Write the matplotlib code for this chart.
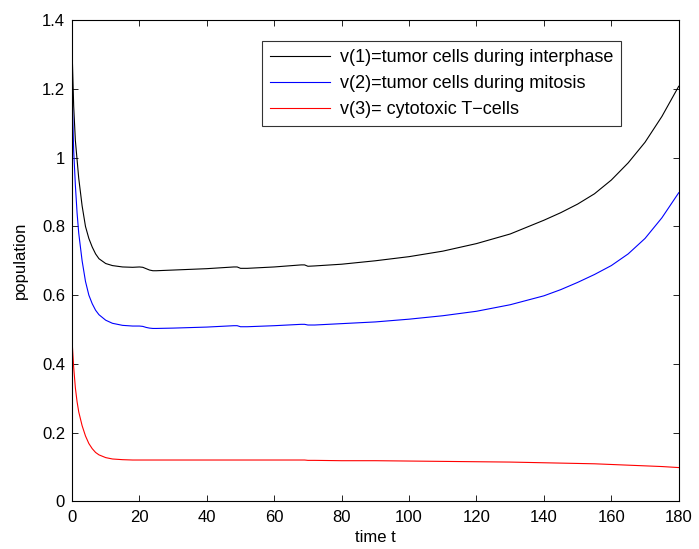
import matplotlib
matplotlib.use("Agg")
import matplotlib.pyplot as plt
import numpy as np

plt.rcParams["font.family"] = ["Liberation Sans", "DejaVu Sans"]
plt.rcParams["font.size"] = 12

# time points and the three populations
t = [0, 0.5, 1, 1.5, 2, 3, 4, 5, 6, 7, 8, 10, 12, 15, 18, 20, 21, 22, 23, 24, 25,
     30, 40, 48, 49, 50, 52, 60, 68, 69, 70, 72, 80, 90, 100, 110, 120, 130, 140,
     145, 150, 155, 160, 165, 170, 175, 180]
v1 = [1.32, 1.15, 1.05, 0.995, 0.94, 0.86, 0.80, 0.765, 0.74, 0.72, 0.706, 0.692,
      0.686, 0.682, 0.681, 0.682, 0.681, 0.677, 0.673, 0.671, 0.671,
      0.673, 0.677, 0.682, 0.682, 0.678, 0.678, 0.682, 0.688, 0.688, 0.684, 0.685,
      0.690, 0.700, 0.712, 0.728, 0.750, 0.778, 0.818,
      0.840, 0.865, 0.895, 0.935, 0.985, 1.045, 1.120, 1.208]
v2 = [1.20, 1.02, 0.92, 0.84, 0.78, 0.70, 0.64, 0.60, 0.575, 0.556, 0.543, 0.527,
      0.518, 0.512, 0.510, 0.510, 0.509, 0.506, 0.504, 0.503, 0.503,
      0.504, 0.507, 0.511, 0.511, 0.508, 0.508, 0.511, 0.515, 0.515, 0.513, 0.513,
      0.517, 0.522, 0.530, 0.540, 0.553, 0.572, 0.598,
      0.616, 0.637, 0.660, 0.686, 0.720, 0.765, 0.825, 0.898]
v3 = [0.47, 0.39, 0.33, 0.29, 0.26, 0.22, 0.19, 0.168, 0.153, 0.142, 0.135, 0.127,
      0.123, 0.121, 0.120, 0.120, 0.120, 0.120, 0.120, 0.120, 0.120,
      0.120, 0.120, 0.120, 0.120, 0.120, 0.120, 0.120, 0.120, 0.120, 0.119, 0.119,
      0.118, 0.118, 0.117, 0.116, 0.115, 0.114, 0.112,
      0.111, 0.110, 0.109, 0.107, 0.105, 0.103, 0.101, 0.098]

labels = ["v(1)=tumor cells during interphase",
          "v(2)=tumor cells during mitosis",
          "v(3)= cytotoxic T\u2212cells"]
colors = ["black", "blue", "red"]

fig = plt.figure(figsize=(6.99, 5.49), dpi=100, facecolor="white")
ax = fig.add_axes([0.103, 0.087, 0.868, 0.876])

for series, color, label in zip((v1, v2, v3), colors, labels):
    ax.plot(t, series, color=color, linewidth=0.8, label=label)

ax.set_xlim(0, 180)
ax.set_ylim(0, 1.4)
ax.set_xticks(np.arange(0, 181, 20))
ax.set_yticks(np.arange(0, 1.41, 0.2))
ax.set_yticklabels(["0", "0.2", "0.4", "0.6", "0.8", "1", "1.2", "1.4"])
ax.tick_params(direction="in", top=True, right=True, length=4, width=0.6,
               labelsize=12)
ax.tick_params(axis="x", pad=6)
ax.tick_params(axis="y", pad=5)
for spine in ax.spines.values():
    spine.set_linewidth(0.8)
ax.set_xlabel("time t", fontsize=12, labelpad=4)
ax.set_ylabel("population", fontsize=12, labelpad=10)

leg = ax.legend(loc="upper right", bbox_to_anchor=(0.905, 0.957), fontsize=13,
                frameon=True, fancybox=False, handlelength=3.3, handletextpad=0.55,
                borderpad=0.45, labelspacing=0.5, borderaxespad=0)
leg.get_frame().set_edgecolor("black")
leg.get_frame().set_linewidth(0.8)

fig.savefig("out.png", dpi=100, facecolor="white")
